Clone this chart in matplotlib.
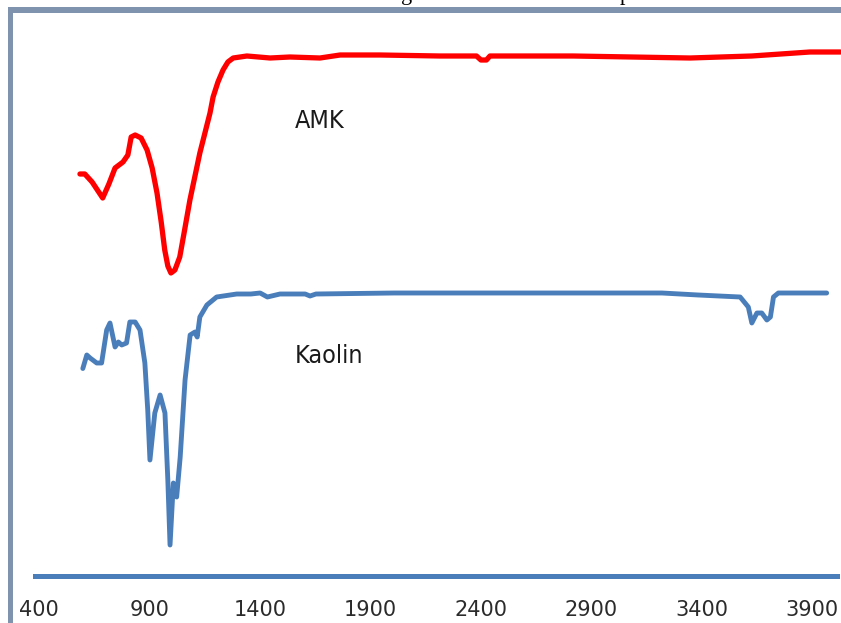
import matplotlib
matplotlib.use("Agg")
import matplotlib.pyplot as plt
from matplotlib.patches import Rectangle

# ---- data (wavenumber, arbitrary transmittance units) ----
amk_x = [585, 607, 640, 688, 716, 744, 780, 802, 817, 835, 862, 889, 912, 934, 953,
         969, 983, 997, 1015, 1037, 1059, 1083, 1128, 1174, 1188, 1210, 1233, 1255,
         1279, 1341, 1446, 1536, 1672, 1763, 1944, 2214, 2381, 2401, 2426, 2442,
         2819, 3348, 3627, 3891, 4029]
amk_y = [80.4, 80.4, 78.8, 75.6, 78.4, 81.6, 82.8, 84.2, 87.8, 88.2, 87.6, 85.2, 81.6,
         76.6, 70.8, 65.2, 62.0, 60.6, 61.2, 63.8, 69.2, 75.2, 84.6, 92.6, 95.8, 98.8,
         101.2, 102.8, 103.6, 104.0, 103.6, 103.8, 103.6, 104.2, 104.2, 104.0, 104.0,
         103.2, 103.2, 104.0, 104.0, 103.6, 104.0, 104.8, 104.8]

kaolin_x = [598, 616, 631, 661, 683, 706, 721, 744, 759, 774, 796, 811, 835, 857, 879,
            892, 902, 924, 948, 970, 983, 993, 1008, 1023, 1039, 1061, 1084, 1106, 1116,
            1128, 1160, 1204, 1295, 1359, 1401, 1434, 1491, 1605, 1627, 1654, 2007,
            2493, 2818, 3221, 3385, 3575, 3612, 3628, 3651, 3673, 3696, 3712, 3726,
            3748, 3847, 3967]
kaolin_y = [41.5, 44.2, 43.6, 42.6, 42.6, 49.2, 50.6, 45.8, 46.8, 46.2, 46.6, 50.8, 50.8,
            49.2, 42.6, 33.2, 23.2, 32.6, 36.2, 32.6, 19.2, 6.2, 18.6, 15.8, 23.8, 39.2,
            48.2, 48.8, 47.8, 51.8, 54.2, 55.8, 56.4, 56.4, 56.6, 55.8, 56.4, 56.4, 56.0,
            56.4, 56.6, 56.6, 56.6, 56.6, 56.2, 55.8, 53.8, 50.6, 52.6, 52.6, 51.2, 51.8,
            55.8, 56.6, 56.6, 56.6]

xticks = [400, 900, 1400, 1900, 2400, 2900, 3400, 3900]
series_labels = ["AMK", "Kaolin"]

RED = "#ff0000"
BLUE = "#4a7ebb"
W, H = 841, 623

fig = plt.figure(figsize=(W / 100, H / 100), dpi=100)
fig.patch.set_facecolor("white")

ax = fig.add_axes([35 / W, (H - 576) / H, (837 - 35) / W, (576 - 13) / H])
ax.set_xlim(381.4, 4013.7)
ax.set_ylim(0, 112.6)

ax.plot(amk_x, amk_y, color=RED, lw=3.8, solid_capstyle="round",
        solid_joinstyle="round", clip_on=False, zorder=3)
ax.plot(kaolin_x, kaolin_y, color=BLUE, lw=3.5, solid_capstyle="round",
        solid_joinstyle="round", clip_on=False, zorder=3)

for s in ["top", "left", "right"]:
    ax.spines[s].set_visible(False)
ax.spines["bottom"].set_color(BLUE)
ax.spines["bottom"].set_linewidth(3.6)
ax.set_yticks([])
ax.set_xticks(xticks)
ax.set_xticklabels([str(t) for t in xticks])
ax.tick_params(axis="x", length=0, pad=17, labelsize=15, labelcolor="#2b2b2b")
ax.patch.set_alpha(0)

tkw = dict(fontsize=18, color="#1a1a1a", ha="left", va="baseline",
           family="DejaVu Sans", fontstretch="condensed")
ax.text(1559, 89.6, series_labels[0], **tkw)
ax.text(1559, 42.6, series_labels[1], **tkw)

# frame (left and top border)
bc = "#7f93ae"
fig.add_artist(Rectangle((8 / W, 0), 5 / W, (H - 7) / H, transform=fig.transFigure,
                         facecolor=bc, edgecolor="none"))
fig.add_artist(Rectangle((8 / W, (H - 13) / H), (W - 8) / W, 6 / H,
                         transform=fig.transFigure, facecolor=bc, edgecolor="none"))

# cut-off caption fragments at the very top
fig.text(407 / W, 1.0, "g", ha="center", va="baseline", fontsize=16,
         family="Liberation Serif", color="black")
fig.text(625 / W, 1.0, "p", ha="center", va="baseline", fontsize=16,
         family="Liberation Serif", color="black")

fig.savefig("out.png", dpi=100)
